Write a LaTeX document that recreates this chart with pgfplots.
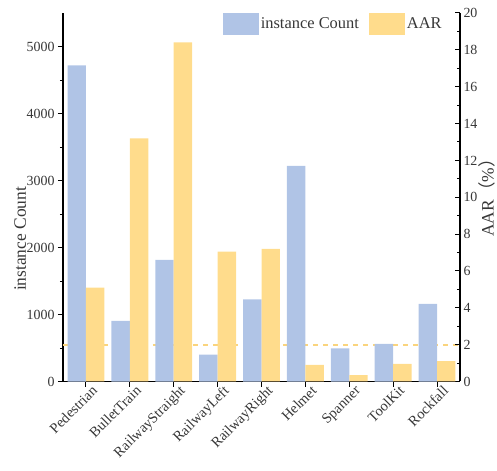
\documentclass[border=0pt]{standalone}
\usepackage{pgfplots}
\pgfplotsset{compat=1.18}
\usepackage{fontspec}
\setmainfont{Liberation Serif}
\newfontfamily\cjk{Noto Sans CJK SC}
\definecolor{cblue}{RGB}{176,196,230}
\definecolor{cyel}{RGB}{255,220,140}
\definecolor{cdash}{RGB}{250,212,125}
\definecolor{ctext}{RGB}{55,55,55}
\pgfplotsset{
  legimg/.style={legend image code/.code={\fill[##1] (0bp,-11bp) rectangle (36bp,11bp);}},
  common/.style={
    scale only axis, width=397bp, height=368.5bp,
    xmin=-0.524, xmax=8.524, ymin=0,
    /pgf/number format/assume math mode=true,
    /pgf/number format/1000 sep={},
    tick label style={font=\fontsize{14}{15}\selectfont, text=ctext},
    label style={font=\fontsize{17.5}{18}\selectfont, text=ctext},
    axis line style={line width=1.1bp, black},
    major tick length=5bp, minor tick length=3bp,
    every tick/.style={line width=1bp, black},
    every minor tick/.style={line width=1bp, black},
  }
}
\begin{document}
\begin{tikzpicture}
\useasboundingbox (-63bp,-89.5bp) rectangle (434bp,381.5bp);
\begin{axis}[common, ymax=5500,
  axis y line*=left, axis x line*=bottom,
  ytick={0,1000,...,5000}, minor ytick={500,1500,...,4500},
  tick align=outside,
  xtick={0,...,8},
  xticklabels={Pedestrian,BulletTrain,RailwayStraight,RailwayLeft,RailwayRight,Helmet,Spanner,ToolKit,Rockfall},
  xticklabel style={rotate=45, anchor=north east, inner sep=1bp, font=\fontsize{14.5}{15}\selectfont, xshift=6bp, yshift=-1bp},
  ylabel={instance Count},
  ylabel style={at={(axis description cs:-0.108,0.387)}, anchor=center},
]
\addplot[cdash, line width=2bp, dash pattern=on 5bp off 5bp, forget plot] coordinates {(-0.524,550) (8.524,550)};
\addplot[ybar, bar width=0.42, bar shift=-0.21, fill=cblue, draw=none] coordinates {
(0,4720) (1,905) (2,1815) (3,400) (4,1225) (5,3220) (6,495) (7,560) (8,1160)};
\end{axis}
\begin{axis}[common, ymax=20,
  axis y line*=right, axis x line=none,
  ytick={0,2,...,20}, minor ytick={1,3,...,19},
  tick align=inside,
  ylabel={AAR{\cjk （}\%{\cjk ）}},
  ylabel style={at={(axis description cs:1.068,0.51)}, anchor=center},
  legend style={at={(axis description cs:0.402,1.0)}, anchor=north west, draw=none, fill=none,
    legend columns=-1, font=\fontsize{16.5}{17}\selectfont, text=ctext, inner sep=0pt,
    /tikz/every even column/.append style={column sep=8bp}},
]
\addlegendimage{fill=cblue, draw=none, legimg}
\addlegendentry{instance Count}
\addplot[ybar, bar width=0.42, bar shift=0.21, fill=cyel, draw=none, legimg] coordinates {
(0,5.1) (1,13.2) (2,18.4) (3,7.05) (4,7.2) (5,0.9) (6,0.35) (7,0.95) (8,1.1)};
\addlegendentry{AAR}
\end{axis}
\end{tikzpicture}
\end{document}
